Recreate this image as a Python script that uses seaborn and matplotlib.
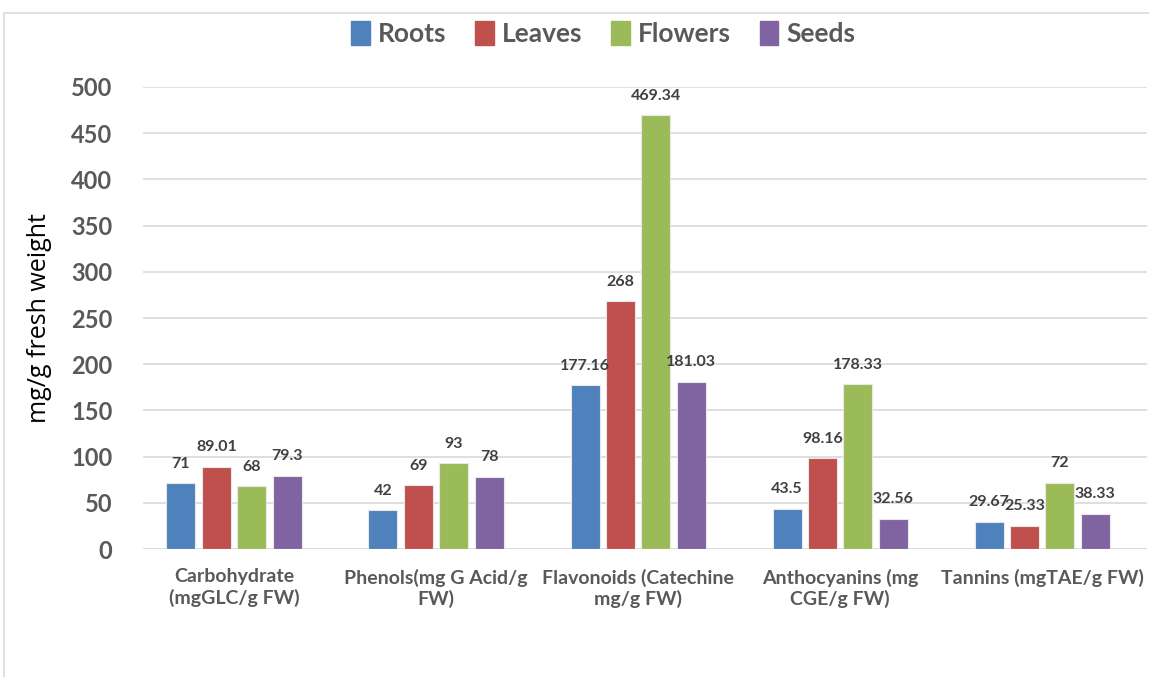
import matplotlib.pyplot as plt
import matplotlib.patches as mpatches
import seaborn as sns
import pandas as pd

# Werte
categories = ["Carbohydrate\n(mgGLC/g FW)", "Phenols(mg G Acid/g\nFW)",
              "Flavonoids (Catechine\nmg/g FW)", "Anthocyanins (mg\nCGE/g FW)",
              "Tannins (mgTAE/g FW)"]
parts = ["Roots", "Leaves", "Flowers", "Seeds"]
roots = [71, 42, 177.16, 43.5, 29.67]
leaves = [89.01, 69, 268, 98.16, 25.33]
flowers = [68, 93, 469.34, 178.33, 72]
seeds = [79.3, 78, 181.03, 32.56, 38.33]
labels = {
    "Roots": ["71", "42", "177.16", "43.5", "29.67"],
    "Leaves": ["89.01", "69", "268", "98.16", "25.33"],
    "Flowers": ["68", "93", "469.34", "178.33", "72"],
    "Seeds": ["79.3", "78", "181.03", "32.56", "38.33"],
}
colors = ["#4F81BD", "#C0504D", "#9BBB59", "#8064A2"]

rows = []
for part, vals in zip(parts, [roots, leaves, flowers, seeds]):
    for cat, v in zip(categories, vals):
        rows.append({"cat": cat, "part": part, "value": v})
df = pd.DataFrame(rows)

sns.set_style("white")
bold_font = ['Lato', 'DejaVu Sans']
plt.rcParams['font.family'] = bold_font
plt.rcParams['font.weight'] = 'bold'

fig = plt.figure(figsize=(11.49, 6.77), dpi=100)
ax = fig.add_axes([0.1245, 0.189, 0.874, 0.6825])

sns.barplot(data=df, x="cat", y="value", hue="part", hue_order=parts,
            palette=colors, saturation=1, width=0.7, gap=0.18,
            edgecolor="#e8e8e8", linewidth=0.8, ax=ax, legend=True, zorder=3)

for cont, part in zip(ax.containers, parts):
    ax.bar_label(cont, labels=labels[part], padding=9, fontsize=11.5,
                 fontweight="bold", color="#404040")

ax.set_ylim(0, 500)
ax.set_xlim(-0.45, 4.52)
ax.set_yticks(range(0, 501, 50))
ax.grid(axis="y", color="#D9D9D9", linewidth=1.2, zorder=0)
ax.set_axisbelow(True)
for s in ax.spines.values():
    s.set_visible(False)
ax.axhline(0, color="#D9D9D9", linewidth=1.2, zorder=1)
ax.tick_params(axis="y", labelsize=17, labelcolor="#595959", length=0, pad=22)
ax.tick_params(axis="x", labelsize=14, labelcolor="#595959", length=0, pad=14)
ax.set_xlabel("")
ax.set_ylabel("mg/g fresh weight", fontsize=18, fontweight="normal",
              family=['Open Sans', 'DejaVu Sans'], color="black", labelpad=14)

ax.legend_.remove()
handles = [mpatches.Patch(color=c, label=p) for c, p in zip(colors, parts)]
leg = fig.legend(handles=handles, loc="center", bbox_to_anchor=(0.525, 0.95),
                 ncol=4, frameon=False, handlelength=0.7, handleheight=1.0,
                 handletextpad=0.3, columnspacing=1.1,
                 prop={"size": 19, "weight": "bold", "family": bold_font})
for t in leg.get_texts():
    t.set_color("#595959")

# heller Rahmen wie in der Vorlage
fig.patches.append(mpatches.Rectangle((4 / 1149, -0.1), 1.2, 1 - 12.5 / 677 + 0.1,
                                      transform=fig.transFigure, fill=False,
                                      edgecolor="#D9D9D9", linewidth=1.2))

fig.savefig("out.png", dpi=100)
